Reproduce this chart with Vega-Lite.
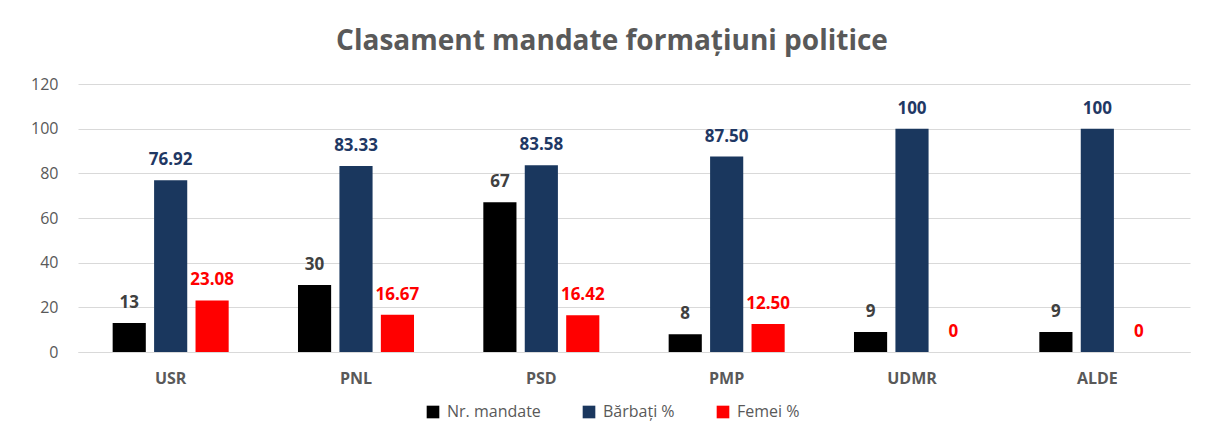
{
  "$schema": "https://vega.github.io/schema/vega-lite/v6.json",
  "autosize": {"type": "none"},
  "width": 1112,
  "height": 268,
  "padding": {"left": 78, "top": 84, "right": 17, "bottom": 87},
  "background": "white",
  "title": {"text": "Clasament mandate formațiuni politice", "font": "Open Sans", "fontSize": 28, "fontWeight": "bold", "color": "#595959", "offset": 20, "dx": -22},
  "data": {"values": [
    {"party": "USR", "series": "Nr. mandate", "value": 13, "label": "13"},
    {"party": "USR", "series": "Bărbați %", "value": 76.92, "label": "76.92"},
    {"party": "USR", "series": "Femei %", "value": 23.08, "label": "23.08"},
    {"party": "PNL", "series": "Nr. mandate", "value": 30, "label": "30"},
    {"party": "PNL", "series": "Bărbați %", "value": 83.33, "label": "83.33"},
    {"party": "PNL", "series": "Femei %", "value": 16.67, "label": "16.67"},
    {"party": "PSD", "series": "Nr. mandate", "value": 67, "label": "67"},
    {"party": "PSD", "series": "Bărbați %", "value": 83.58, "label": "83.58"},
    {"party": "PSD", "series": "Femei %", "value": 16.42, "label": "16.42"},
    {"party": "PMP", "series": "Nr. mandate", "value": 8, "label": "8"},
    {"party": "PMP", "series": "Bărbați %", "value": 87.5, "label": "87.50"},
    {"party": "PMP", "series": "Femei %", "value": 12.5, "label": "12.50"},
    {"party": "UDMR", "series": "Nr. mandate", "value": 9, "label": "9"},
    {"party": "UDMR", "series": "Bărbați %", "value": 100, "label": "100"},
    {"party": "UDMR", "series": "Femei %", "value": 0, "label": "0"},
    {"party": "ALDE", "series": "Nr. mandate", "value": 9, "label": "9"},
    {"party": "ALDE", "series": "Bărbați %", "value": 100, "label": "100"},
    {"party": "ALDE", "series": "Femei %", "value": 0, "label": "0"}
  ]},
  "encoding": {
    "x": {"field": "party", "type": "nominal", "sort": ["USR", "PNL", "PSD", "PMP", "UDMR", "ALDE"],
      "scale": {"paddingInner": 0.374, "paddingOuter": 0.187},
      "axis": {"title": null, "labelAngle": 0, "labelFont": "Open Sans", "labelFontSize": 16, "labelFontWeight": "bold", "labelColor": "#595959", "ticks": false, "domainColor": "#d9d9d9", "labelPadding": 18}},
    "xOffset": {"field": "series", "type": "nominal", "sort": ["Nr. mandate", "Bărbați %", "Femei %"], "scale": {"paddingInner": 0.2, "paddingOuter": 0}},
    "y": {"field": "value", "type": "quantitative",
      "scale": {"domain": [0, 120]},
      "axis": {"title": null, "values": [0, 20, 40, 60, 80, 100, 120], "labelFont": "Open Sans", "labelFontSize": 16, "labelColor": "#595959", "ticks": false, "domain": false, "gridColor": "#d9d9d9", "labelPadding": 20}}
  },
  "layer": [
    {
      "mark": {"type": "bar"},
      "encoding": {
        "color": {"field": "series", "type": "nominal", "sort": ["Nr. mandate", "Bărbați %", "Femei %"],
          "scale": {"domain": ["Nr. mandate", "Bărbați %", "Femei %"], "range": ["#000000", "#1a375e", "#ff0000"]},
          "legend": {"title": null, "orient": "none", "legendX": 347, "legendY": 320, "direction": "horizontal", "symbolType": "square", "symbolSize": 160, "symbolStrokeWidth": 0, "labelFont": "Open Sans", "labelFontSize": 16, "labelColor": "#595959", "columnPadding": 40, "labelOffset": 6}}
      }
    },
    {
      "mark": {"type": "text", "font": "Open Sans", "fontSize": 17, "fontWeight": "bold", "baseline": "middle", "dy": -20},
      "encoding": {
        "text": {"field": "label"},
        "color": {"field": "series", "type": "nominal",
          "scale": {"domain": ["Nr. mandate", "Bărbați %", "Femei %"], "range": ["#404040", "#1f3864", "#ff0000"]},
          "legend": null}
      }
    }
  ],
  "resolve": {"scale": {"color": "independent"}},
  "config": {"view": {"stroke": null}}
}
